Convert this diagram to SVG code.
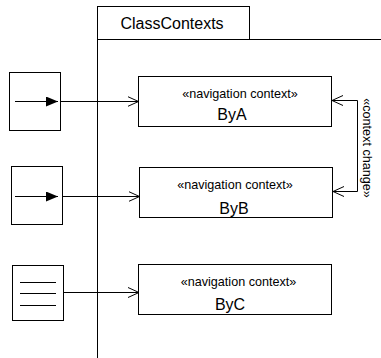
<svg xmlns="http://www.w3.org/2000/svg" width="381" height="358" viewBox="0 0 381 358">
<style>
.ln{stroke:#000;stroke-width:1;fill:none}
.box{stroke:#000;stroke-width:1;fill:#fff}
.st{font-family:"Liberation Sans",Arial,sans-serif;font-size:12.6px;fill:#000;text-anchor:middle}
.nm{font-family:"Liberation Sans",Arial,sans-serif;font-size:16px;fill:#000;text-anchor:middle}
</style>
<defs>
<marker id="open" viewBox="0 0 12 12" refX="11" refY="6" markerWidth="12" markerHeight="12" markerUnits="userSpaceOnUse" orient="auto">
<path d="M0,1 L11,6 L0,11" fill="none" stroke="#000" stroke-width="1"/>
</marker>
<marker id="filled" viewBox="0 0 12 10" refX="12" refY="5" markerWidth="12" markerHeight="10" markerUnits="userSpaceOnUse" orient="auto">
<path d="M0,0 L12,5 L0,10 Z" fill="#000"/>
</marker>
</defs>
<g id="frame">
<rect class="box" x="97.5" y="6.5" width="152" height="33"/>
<path class="ln" d="M97.5,39.5 H381 M97.5,6.5 V358"/>
<text class="nm" x="172" y="29">ClassContexts</text>
</g>
<g id="entryA">
<rect class="box" x="9.5" y="72.5" width="51" height="58"/>
<path class="ln" d="M15,101.5 H58" marker-end="url(#filled)"/>
</g>
<g id="entryB">
<rect class="box" x="11.5" y="166.5" width="51" height="58"/>
<path class="ln" d="M15,196.5 H58" marker-end="url(#filled)"/>
</g>
<g id="entryC">
<rect class="box" x="12.5" y="265.5" width="51" height="55"/>
<path class="ln" d="M20,282.5 H56 M20,293.5 H56 M20,305.5 H56"/>
</g>
<g id="ByA">
<rect class="box" x="138.5" y="76.5" width="193" height="50"/>
<text class="st" x="240" y="98">«navigation context»</text>
<text class="nm" x="232" y="119.5">ByA</text>
</g>
<g id="ByB">
<rect class="box" x="139.5" y="167.5" width="193" height="50"/>
<text class="st" x="235" y="189">«navigation context»</text>
<text class="nm" x="234" y="214">ByB</text>
</g>
<g id="ByC">
<rect class="box" x="138.5" y="264.5" width="193" height="50"/>
<text class="st" x="238.5" y="285.5">«navigation context»</text>
<text class="nm" x="230" y="310">ByC</text>
</g>
<g id="connectors">
<path class="ln" d="M60.5,101.5 H138.5" marker-end="url(#open)"/>
<path class="ln" d="M62.5,196.5 H139.5" marker-end="url(#open)"/>
<path class="ln" d="M63.5,292.5 H139" marker-end="url(#open)"/>
<path class="ln" d="M357.5,100.5 H332" marker-end="url(#open)"/>
<path class="ln" d="M357.5,100.5 V191.5 H333" marker-end="url(#open)"/>
<text class="st" transform="translate(362.5,148) rotate(90)" x="0" y="0">«context change»</text>
</g>
</svg>
